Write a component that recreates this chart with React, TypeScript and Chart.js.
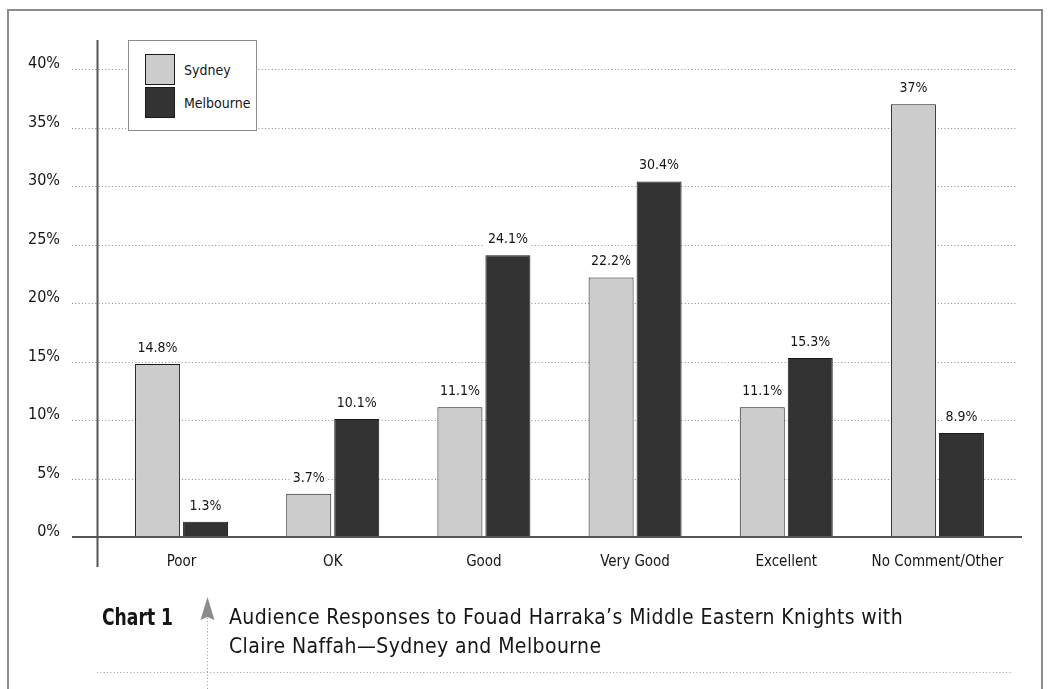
import React, { useEffect, useRef } from "react";
import { Chart, registerables } from "chart.js";

Chart.register(...registerables);

// Response categories along the x axis
const categories = ["Poor", "OK", "Good", "Very Good", "Excellent", "No Comment/Other"];
// Share of responses per city (percent)
const sydneyValues = [14.8, 3.7, 11.1, 22.2, 11.1, 37];
const melbourneValues = [1.3, 10.1, 24.1, 30.4, 15.3, 8.9];
const seriesNames = ["Sydney", "Melbourne"];
// Percentage gridlines / tick labels
const yTicks = [0, 5, 10, 15, 20, 25, 30, 35, 40];

const captionLabel = "Chart 1";
const captionLines = [
  "Audience Responses to Fouad Harraka\u2019s Middle Eastern Knights with",
  "Claire Naffah\u2014Sydney and Melbourne",
];

const FONT = "'DejaVu Sans Condensed', 'DejaVu Sans', sans-serif";
const FILLS = ["#cccccc", "#333333"];
const EDGES = ["#1a1a1a", "#1a1a1a"];
const INK = "#151515";

const fmt = (v: number) => `${v}%`;

const decorPlugin = {
  id: "decor",
  beforeDatasetsDraw(chart: any) {
    const { ctx, chartArea } = chart;
    const y = chart.scales.y;
    ctx.save();
    ctx.strokeStyle = "#8a8a8a";
    ctx.lineWidth = 1;
    ctx.setLineDash([1, 2.33]);
    for (const t of yTicks) {
      if (t === 0) continue;
      const py = Math.round(y.getPixelForValue(t)) + 0.5;
      ctx.beginPath();
      ctx.moveTo(chartArea.left - 34, py);
      ctx.lineTo(chartArea.right + 4, py);
      ctx.stroke();
    }
    ctx.restore();
  },
  afterDatasetsDraw(chart: any) {
    const { ctx, chartArea } = chart;
    const y = chart.scales.y;
    ctx.save();
    // baseline at 0%
    const y0 = Math.round(y.getPixelForValue(0));
    ctx.strokeStyle = "#555555";
    ctx.lineWidth = 2;
    ctx.beginPath();
    ctx.moveTo(chartArea.left - 34, y0);
    ctx.lineTo(chartArea.right + 9, y0);
    ctx.stroke();
    // vertical axis line
    const ax = chartArea.left - 8.5;
    ctx.beginPath();
    ctx.moveTo(ax, chartArea.top);
    ctx.lineTo(ax, chartArea.bottom + 30);
    ctx.stroke();

    // value labels above each bar, on a white ground
    ctx.font = `14px ${FONT}`;
    ctx.textAlign = "center";
    ctx.textBaseline = "alphabetic";
    chart.data.datasets.forEach((ds: any, di: number) => {
      const meta = chart.getDatasetMeta(di);
      meta.data.forEach((bar: any, i: number) => {
        const text = fmt(ds.data[i]);
        const w = ctx.measureText(text).width;
        const base = bar.y - 12;
        ctx.fillStyle = "#ffffff";
        ctx.fillRect(bar.x - w / 2 - 3, base - 13, w + 6, 16);
        ctx.fillStyle = INK;
        ctx.fillText(text, bar.x, base);
      });
    });
    ctx.restore();
  },
};

export default function App() {
  const canvasRef = useRef<HTMLCanvasElement | null>(null);

  useEffect(() => {
    if (!canvasRef.current) return;
    const chart = new Chart(canvasRef.current, {
      type: "bar",
      data: {
        labels: categories,
        datasets: [sydneyValues, melbourneValues].map((vals, i) => ({
          label: seriesNames[i],
          data: vals,
          backgroundColor: FILLS[i],
          borderColor: EDGES[i],
          borderWidth: 1,
          categoryPercentage: 0.635,
          barPercentage: 0.9375,
        })),
      },
      options: {
        responsive: false,
        animation: false,
        events: [],
        layout: { padding: { left: 0, top: 40, right: 35, bottom: 92 } },
        plugins: {
          legend: { display: false },
          tooltip: { enabled: false },
          title: { display: false },
        },
        scales: {
          x: {
            grid: { display: false, drawTicks: false },
            border: { display: false },
            ticks: { color: INK, font: { family: FONT, size: 15 }, padding: 16 },
            afterFit: (s: any) => {
              s.height = 60;
              s.paddingLeft = 0;
              s.paddingRight = 0;
            },
          },
          y: {
            min: 0,
            max: 42.5,
            grid: { display: false, drawTicks: false },
            border: { display: false },
            afterBuildTicks: (s: any) => {
              s.ticks = yTicks.map((v) => ({ value: v }));
            },
            ticks: {
              color: INK,
              font: { family: FONT, size: 16 },
              padding: 46,
              labelOffset: -5,
              callback: (v: any) => fmt(Number(v)),
            },
            afterFit: (s: any) => {
              s.width = 106;
              s.paddingTop = 0;
              s.paddingBottom = 0;
            },
          },
        },
      },
      plugins: [decorPlugin],
    });
    return () => chart.destroy();
  }, []);

  return (
    <div style={{ position: "absolute", left: 0, top: 0, width: 1048, height: 689, overflow: "hidden", background: "#fff" }}>
      {/* frame */}
      <div
        style={{
          position: "absolute",
          left: 7,
          top: 9,
          width: 1032,
          height: 700,
          borderLeft: "2px solid #8c8c8c",
          borderTop: "2px solid #8c8c8c",
          borderRight: "2px solid #8c8c8c",
        }}
      />
      <canvas ref={canvasRef} width={1048} height={689} style={{ position: "absolute", left: 0, top: 0, display: "block" }} />

      {/* legend */}
      <div
        style={{
          position: "absolute",
          left: 128,
          top: 40,
          width: 127,
          height: 89,
          border: "1px solid #8c8c8c",
          background: "#fff",
          fontFamily: FONT,
          fontSize: 14,
          color: INK,
        }}
      >
        {seriesNames.map((name, i) => (
          <div key={name} style={{ position: "absolute", left: 16, top: 13 + i * 33, height: 31, display: "flex", alignItems: "center" }}>
            <div style={{ width: 28, height: 29, background: FILLS[i], border: "1px solid #1a1a1a" }} />
            <span style={{ marginLeft: 9 }}>{name}</span>
          </div>
        ))}
      </div>

      {/* caption marker and rules */}
      <svg width={1048} height={689} style={{ position: "absolute", left: 0, top: 0 }}>
        <line x1={207.5} y1={618} x2={207.5} y2={689} stroke="#999" strokeWidth={1} strokeDasharray="1 2.33" />
        <line x1={97} y1={672.5} x2={1013} y2={672.5} stroke="#999" strokeWidth={1} strokeDasharray="1 2.33" />
        <polygon points="207.5,597 214.5,620 207.5,617 200.5,620" fill="#8c8c8c" />
      </svg>

      <div
        style={{
          position: "absolute",
          left: 102,
          top: 603,
          lineHeight: "29px",
          fontFamily: FONT,
          fontWeight: 700,
          fontSize: 23,
          color: INK,
          transform: "scaleX(0.83)",
          transformOrigin: "left center",
          whiteSpace: "nowrap",
        }}
      >
        {captionLabel}
      </div>
      <div
        style={{
          position: "absolute",
          left: 229,
          top: 603,
          lineHeight: "29px",
          fontFamily: FONT,
          fontSize: 21,
          letterSpacing: 0.4,
          color: INK,
          whiteSpace: "nowrap",
        }}
      >
        {captionLines.map((l) => (
          <div key={l}>{l}</div>
        ))}
      </div>
    </div>
  );
}
